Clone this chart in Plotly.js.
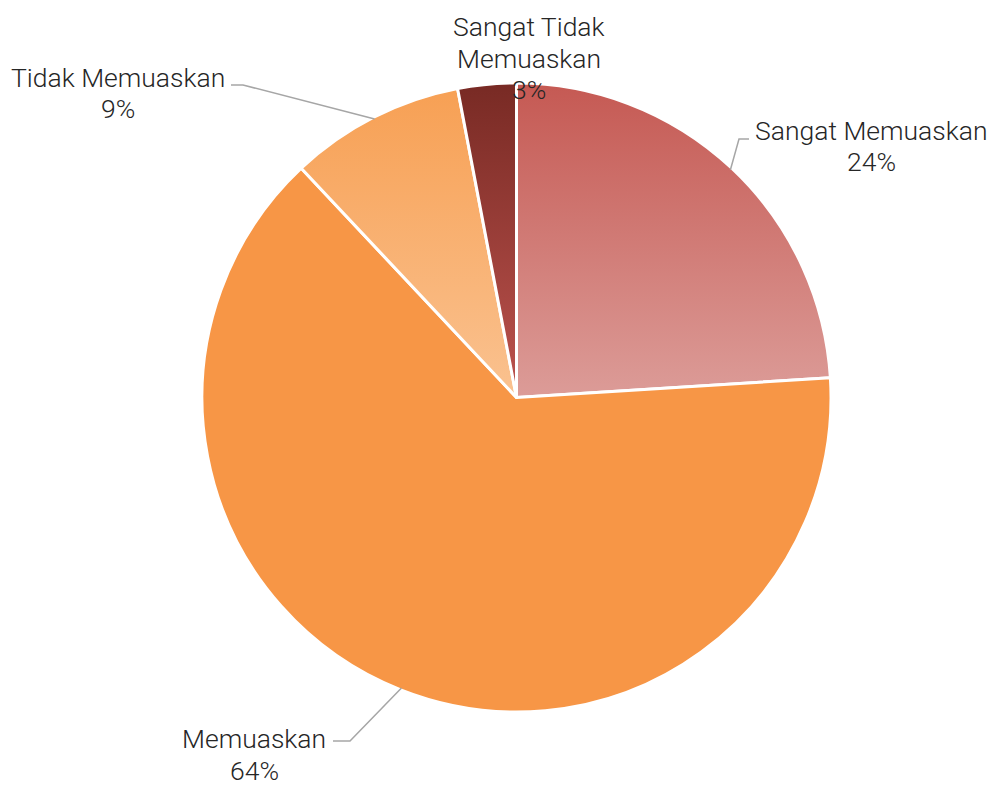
<!DOCTYPE html>
<html>
<head>
<meta charset="utf-8">
<script src="https://cdn.plot.ly/plotly-3.0.1.min.js"></script>
<style>html,body{margin:0;padding:0;background:#fff;}#chart{width:994px;height:785px;}</style>
</head>
<body>
<div id="chart"></div>
<script>
// ---- data ----
const categories = ["Sangat Memuaskan", "Memuaskan", "Tidak Memuaskan", "Sangat Tidak Memuaskan"];
const values = [24, 64, 9, 3];
const labelLines = [["Sangat Memuaskan", "24%"], ["Memuaskan", "64%"], ["Tidak Memuaskan", "9%"], ["Sangat Tidak", "Memuaskan", "3%"]];

// ---- styling ----
const baseColors = ["#D07A74", "#F79646", "#F9B273", "#9C3F3A"];
const gradTop = ["#C55953", "#F79646", "#F7A054", "#782A24"];
const gradBottom = ["#DC9C98", "#F79646", "#FAC290", "#BD534E"];

const W = 994, H = 785;
const cx = 516.5, cy = 397.5, R = 312.5, Rdom = 314.5;
const px = x => x / W;
const py = y => 1 - y / H;

// label first-line centres and leader-line elbows (pixel layout)
const labelPos = [[871, 130.5], [254, 738.5], [118, 77.5], [529, 26.7]];
const lineGap = 31.5;
const elbows = [[[739, 139], [749, 139]], [[350, 741], [333, 741]], [[243, 85], [231, 85]], null];

// anchor points on the rim at slice mid-angles (computed from the data)
const total = values.reduce((a, b) => a + b, 0);
let cum = 0;
const anchors = values.map(v => {
  const mid = (cum + v / 2) / total * 2 * Math.PI;
  cum += v;
  return [cx + R * Math.sin(mid), cy - R * Math.cos(mid)];
});

const shapes = [];
anchors.forEach((a, i) => {
  const e = elbows[i];
  if (!e) return;
  const path = `M ${px(a[0])} ${py(a[1])} L ${px(e[0][0])} ${py(e[0][1])} L ${px(e[1][0])} ${py(e[1][1])}`;
  shapes.push({type: "path", xref: "paper", yref: "paper", path: path,
    line: {color: "#A6A6A6", width: 1.5}});
});

const annotations = [];
labelLines.forEach((lines, i) => {
  lines.forEach((t, k) => {
    annotations.push({
      xref: "paper", yref: "paper",
      x: px(labelPos[i][0]), y: py(labelPos[i][1] + k * lineGap),
      xanchor: "center", yanchor: "middle",
      text: t, showarrow: false, align: "center",
      font: {family: "Roboto", size: 26.5, color: "#262626", weight: 300}
    });
  });
});

const trace = {
  type: "pie",
  labels: categories,
  values: values,
  sort: false,
  direction: "clockwise",
  rotation: 0,
  textinfo: "none",
  hoverinfo: "none",
  marker: {colors: baseColors, line: {color: "#FFFFFF", width: 3}},
  domain: {x: [px(cx - Rdom), px(cx + Rdom)], y: [py(cy + Rdom), py(cy - Rdom)]}
};

const layout = {
  width: W, height: H,
  margin: {l: 0, r: 0, t: 0, b: 0},
  paper_bgcolor: "#FFFFFF",
  showlegend: false,
  shapes: shapes,
  annotations: annotations
};

Plotly.newPlot("chart", [trace], layout, {displayModeBar: false, staticPlot: true}).then(gd => {
  const svg = gd.querySelector("svg.main-svg");
  const ns = "http://www.w3.org/2000/svg";
  let defs = svg.querySelector("defs");
  if (!defs) { defs = document.createElementNS(ns, "defs"); svg.insertBefore(defs, svg.firstChild); }
  categories.forEach((c, i) => {
    const g = document.createElementNS(ns, "linearGradient");
    g.setAttribute("id", "slicegrad" + i);
    g.setAttribute("x1", "0"); g.setAttribute("y1", "0");
    g.setAttribute("x2", "0"); g.setAttribute("y2", "1");
    const s1 = document.createElementNS(ns, "stop");
    s1.setAttribute("offset", "0"); s1.setAttribute("stop-color", gradTop[i]);
    const s2 = document.createElementNS(ns, "stop");
    s2.setAttribute("offset", "1"); s2.setAttribute("stop-color", gradBottom[i]);
    g.appendChild(s1); g.appendChild(s2);
    defs.appendChild(g);
  });
  const paths = gd.querySelectorAll("g.slice path.surface");
  paths.forEach((p, i) => { p.style.fill = "url(#slicegrad" + i + ")"; });
});
</script>
</body>
</html>
